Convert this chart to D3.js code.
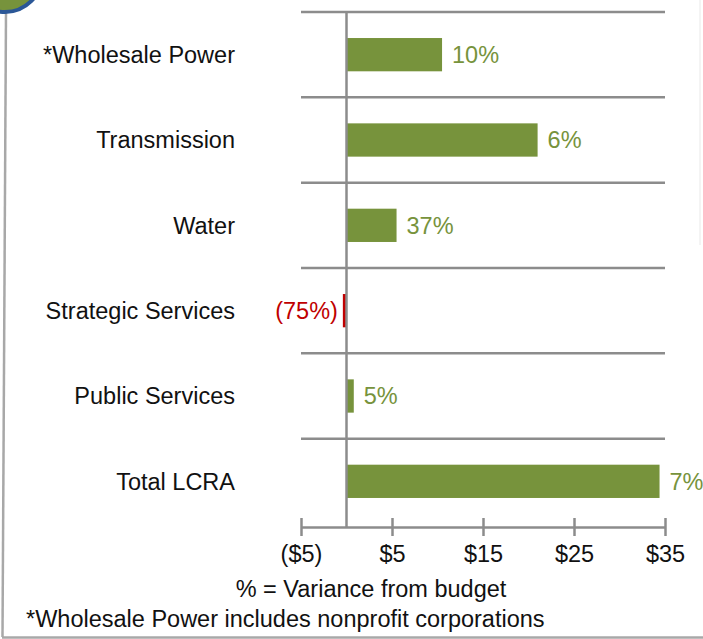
<!DOCTYPE html>
<html><head><meta charset="utf-8">
<script src="https://cdn.jsdelivr.net/npm/d3@7"></script>
<style>body{margin:0;background:#fff}svg{display:block}</style>
</head><body>
<svg id="c" width="703" height="639"></svg>
<script>
const categories = ["*Wholesale Power","Transmission","Water","Strategic Services","Public Services","Total LCRA"];
const values = [10.5, 21.0, 5.5, -0.4, 0.8, 34.4];
const variance = ["10%","6%","37%","(75%)","5%","7%"];
const tickValues = [-5, 5, 15, 25, 35];
const tickLabels = ["($5)","$5","$15","$25","$35"];

const svg = d3.select("#c");
const font = "'Liberation Sans', Arial, sans-serif";
const fs = 23.5;
const green = "#77933c", red = "#c00000", grid = "#8c8c8c";

const x = d3.scaleLinear().domain([-5, 35]).range([301, 665]);
const y = d3.scaleBand().domain(categories).range([12, 524]).paddingInner(0.61).paddingOuter(0.305);
const step = y.step();

// frame
svg.append("line").attr("x1",6).attr("y1",12).attr("x2",2.5).attr("y2",637).attr("stroke","#a8a8a8").attr("stroke-width",2.5);
svg.append("line").attr("x1",2).attr("y1",637.5).attr("x2",703).attr("y2",637.5).attr("stroke","#a8a8a8").attr("stroke-width",2.5);
svg.append("line").attr("x1",700).attr("y1",0).attr("x2",700).attr("y2",245).attr("stroke","#f0f0f0").attr("stroke-width",1.5);
svg.append("circle").attr("cx",5).attr("cy",-25).attr("r",37).attr("fill",green).attr("stroke","#2b5797").attr("stroke-width",4);

// gridlines at band boundaries
svg.append("g").selectAll("line").data(categories).join("line")
  .attr("x1", x.range()[0]).attr("x2", x.range()[1])
  .attr("y1", d => y(d) - y.paddingOuter()*step).attr("y2", d => y(d) - y.paddingOuter()*step)
  .attr("stroke", grid).attr("stroke-width", 2.5);

// bars
svg.append("g").selectAll("rect").data(categories).join("rect")
  .attr("x", (d,i) => x(Math.min(0, values[i])))
  .attr("width", (d,i) => Math.abs(x(values[i]) - x(0)))
  .attr("y", d => y(d)).attr("height", y.bandwidth())
  .attr("fill", (d,i) => values[i] < 0 ? red : green);

// zero line
svg.append("line").attr("x1",x(0)).attr("x2",x(0)).attr("y1",12).attr("y2",527)
  .attr("stroke", grid).attr("stroke-width",2.5);

// axis
const axis = d3.axisBottom(x).tickValues(tickValues).tickFormat((d,i)=>tickLabels[i]).tickSize(9).tickPadding(9).tickSizeOuter(0);
const ag = svg.append("g").attr("transform","translate(0,527)").call(axis);
ag.select(".domain").attr("stroke",grid).attr("stroke-width",2.5);
ag.selectAll(".tick line").attr("stroke",grid).attr("stroke-width",2.5).attr("y1",-9);
ag.selectAll(".tick text").attr("font-family",font).attr("font-size",fs).attr("fill","#111");

// category labels
svg.append("g").selectAll("text").data(categories).join("text")
  .attr("x", 235).attr("y", d => y(d) + y.bandwidth()/2).attr("dy","0.36em")
  .attr("text-anchor","end").attr("font-family",font).attr("font-size",fs)
  .attr("fill","#111").text(d => d);

// value labels
svg.append("g").selectAll("text").data(categories).join("text")
  .attr("x", (d,i) => values[i] < 0 ? x(values[i]) - 5 : x(values[i]) + 10)
  .attr("y", d => y(d) + y.bandwidth()/2).attr("dy","0.36em")
  .attr("text-anchor", (d,i) => values[i] < 0 ? "end" : "start")
  .attr("font-family",font).attr("font-size",fs)
  .attr("fill", (d,i) => values[i] < 0 ? red : green).text((d,i) => variance[i]);

svg.append("text").attr("x",371).attr("y",597).attr("text-anchor","middle")
  .attr("font-family",font).attr("font-size",fs).attr("fill","#111").text("% = Variance from budget");
svg.append("text").attr("x",26).attr("y",627)
  .attr("font-family",font).attr("font-size",fs).attr("fill","#111").text("*Wholesale Power includes nonprofit corporations");
</script>
</body></html>
